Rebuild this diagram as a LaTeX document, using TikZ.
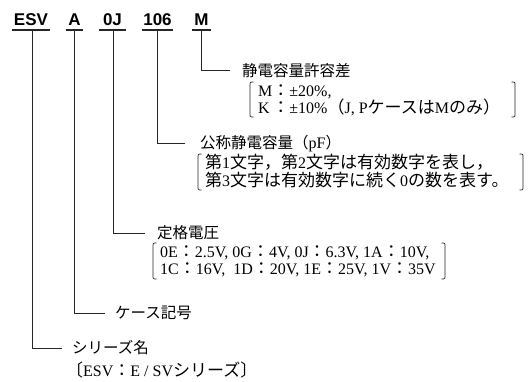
\documentclass[tikz,border=0pt]{standalone}
\usepackage{fontspec}
\setmainfont{Liberation Serif}
\newfontfamily\jpf{Noto Sans CJK JP}
\newfontfamily\hdf{Liberation Sans}
\newcommand\J[1]{{\jpf\fontsize{17}{18}\selectfont #1}}
\newcommand\T[1]{{\jpf\fontsize{15.5}{18}\selectfont #1}}
\newcommand\lbrk[3]{\draw[brk] (#1+3.5,#2) .. controls (#1,#2) and (#1,#2) .. (#1,#2+4) -- (#1,#3-4) .. controls (#1,#3) and (#1,#3) .. (#1+3.5,#3);}
\newcommand\rbrk[3]{\draw[brk] (#1-3.5,#2) .. controls (#1,#2) and (#1,#2) .. (#1,#2+4) -- (#1,#3-4) .. controls (#1,#3) and (#1,#3) .. (#1-3.5,#3);}
\tikzset{
  lbl/.style={anchor=base west, inner sep=0pt, font=\fontsize{16}{18}\selectfont},
  hdr/.style={anchor=base, inner sep=0pt, font=\hdf\bfseries\fontsize{17}{20}\selectfont},
  conn/.style={line width=0.9pt, draw=black!85},
  uline/.style={line width=1.4pt, draw=black!85},
  brk/.style={line width=0.7pt, draw=black!85}
}
\begin{document}
\begin{tikzpicture}[x=1pt,y=-1pt]
\useasboundingbox (0,0) rectangle (528,381);
% header
\node[hdr] (hESV) at (31,25) {ESV};
\node[hdr] (hA) at (74.5,25) {A};
\node[hdr] (h0J) at (112.5,25) {0J};
\node[hdr] (h106) at (157.5,25) {106};
\node[hdr] (hM) at (201.5,25) {M};
\draw[uline] (12,30) -- (50,30);
\draw[uline] (66,30) -- (83,30);
\draw[uline] (99,30) -- (126,30);
\draw[uline] (142,30) -- (173,30);
\draw[uline] (192,30) -- (211,30);
% connector start / end points
\coordinate (vM) at (201,30);   \coordinate (eM) at (230,70);
\coordinate (v106) at (157,30); \coordinate (e106) at (185,143);
\coordinate (v0J) at (113,30);  \coordinate (e0J) at (145,233);
\coordinate (vA) at (74,30);    \coordinate (eA) at (105,313);
\coordinate (vESV) at (32,30);  \coordinate (eESV) at (62,348);
\draw[conn] (vM) |- (eM);
\draw[conn] (v106) |- (e106);
\draw[conn] (v0J) |- (e0J);
\draw[conn] (vA) |- (eA);
\draw[conn] (vESV) |- (eESV);
% M: tolerance
\node[lbl] (tM) at (242,76) {\T{静電容量許容差}};
\node[lbl] (tM1) at (258,96.5) {M\J{：}±20\%,};
\node[lbl] (tM2) at (258,113) {K\,\J{：}±10\%\J{（}J, P\J{ケースは}M\J{のみ）}};
\lbrk{250}{82}{117}
\rbrk{515}{82}{117}
% 106: capacitance
\node[lbl] (t106) at (200,148.5) {\T{公称静電容量（}pF\T{）}};
\node[lbl] (t1061) at (205,168.5) {\J{第}1\J{文字，第}2\J{文字は有効数字を表し，}};
\node[lbl] (t1062) at (205,186) {\J{第}3\J{文字は有効数字に続く}0\J{の数を表す。}};
\lbrk{198}{154}{190}
\rbrk{523}{154}{190}
% 0J: voltage
\node[lbl] (t0J) at (157,238.5) {\T{定格電圧}};
\node[lbl] (t0J1) at (160,257) {0E\J{：}2.5V, 0G\J{：}4V, 0J\J{：}6.3V, 1A\J{：}10V,};
\node[lbl] (t0J2) at (160,274.5) {1C\J{：}16V,\ \ 1D\J{：}20V, 1E\J{：}25V, 1V\J{：}35V};
\lbrk{153}{243}{279}
\rbrk{445}{243}{279}
% A: case
\node[lbl] (tA) at (115,318.5) {\T{ケース記号}};
% ESV: series
\node[lbl] (tESV) at (72,353.5) {\T{シリーズ名}};
\node[lbl] (tESV1) at (66,376) {\J{〔}ESV\J{：}E / SV\J{シリーズ〕}};
\end{tikzpicture}
\end{document}
